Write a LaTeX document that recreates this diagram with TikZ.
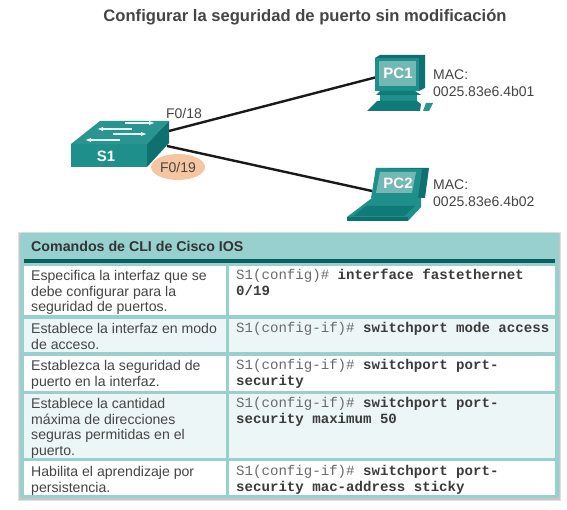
\documentclass[tikz,border=0pt]{standalone}
\usepackage{fontspec}
\setmainfont{Liberation Sans}
\newfontfamily\cmono{Liberation Mono}
\usetikzlibrary{arrows.meta,shapes.geometric,calc}
\definecolor{ink}{HTML}{454545}
\definecolor{soft}{HTML}{6A6A6A}
\definecolor{tealA}{HTML}{1F8F8C}
\definecolor{tealB}{HTML}{0F7A78}
\definecolor{tealC}{HTML}{2A9490}
\definecolor{tealD}{HTML}{0E7170}
\definecolor{screenT}{HTML}{74B8B5}
\definecolor{headT}{HTML}{97D0CE}
\definecolor{barT}{HTML}{0B5F5D}
\definecolor{rowT}{HTML}{EDF6F6}
\definecolor{peach}{HTML}{F6C6A2}
\tikzset{
 lab/.style={font=\fontsize{14.1}{15.7}\selectfont,text=ink,inner sep=0,anchor=north west,align=left},
 maclab/.style={font=\fontsize{14}{16.6}\selectfont,text=ink,inner sep=0,anchor=north west,align=left},
 cmd/.style={font=\cmono\fontsize{14.1}{15.7}\selectfont,text=soft,inner sep=0,anchor=north west,align=left},
 dev/.style={font=\bfseries\fontsize{15}{16}\selectfont,text=white,inner sep=0},
 link/.style={line width=2.4pt,draw=black!90},
 cella/.style={fill=white,draw=none},
 cellb/.style={fill=rowT,draw=none},
}
\newcommand{\kw}[1]{\textcolor{ink!85!black}{\textbf{#1}}}
\begin{document}
\begin{tikzpicture}[x=1pt,y=-1pt]
\useasboundingbox (0,0) rectangle (567,510);
\fill[white] (0,0) rectangle (567,510);
\node[font=\bfseries\fontsize{16.6}{18}\selectfont,text=ink,inner sep=0] (title) at (305,17) {Configurar la seguridad de puerto sin modificación};
% connection points
\coordinate (s1a) at (169,131);
\coordinate (s1b) at (167,146);
\coordinate (pc1a) at (377,77);
\coordinate (pc2a) at (372,191);
\draw[link] (s1a) -- (pc1a);
\draw[link] (s1b) -- (pc2a);
% switch
\fill[tealC] (71,144) -- (100,121) -- (169,121) -- (147,144) -- cycle;
\fill[tealD] (147,144) -- (169,121) -- (169,143) -- (147,167) -- cycle;
\fill[tealA] (71,144) rectangle (147,167);
\foreach \a/\b/\c/\d in {125/123/155/123, 132/129/97/129, 113/134/147/134, 120/140/85/140}
  \draw[white!90!tealA,line width=1.5pt,-{Latex[length=6pt,width=4.5pt]}] (\a,\b) -- (\c,\d);
\node[dev] (s1) at (106,156) {S1};
\node[ellipse,fill=peach,minimum width=54pt,minimum height=26pt,inner sep=0,font=\fontsize{14}{15}\selectfont,text=ink] (f19) at (178,167) {F0/19};
\node[inner sep=0,font=\fontsize{14}{15}\selectfont,text=ink] (f18) at (184,113) {F0/18};
% PC1
\fill[tealD] (375,58) -- (380,55) -- (425,55) -- (425,88) -- (419,91) -- (375,91) -- cycle;
\fill[tealA] (375,58) rectangle (419,91);
\fill[screenT] (379,61) rectangle (416,86);
\fill[tealB] (380,91) -- (415,91) -- (421,95) -- (376,95) -- cycle;
\fill[tealA] (380,95) rectangle (417,101);
\fill[tealB] (377,101) -- (417,101) -- (421,104) -- (420,111) -- (367,111) -- cycle;
\fill[tealC] (426,103) -- (433,103) -- (429,111) -- (423,111) -- cycle;
\node[dev] (pc1) at (398,73) {PC1};
% PC2
\fill[tealD] (376,168) -- (429,168) -- (425,198) -- (372,198) -- cycle;
\fill[tealA] (376,168) -- (422,169) -- (418,198) -- (371,198) -- cycle;
\fill[screenT] (380,172) -- (416,172) -- (412,193) -- (376,193) -- cycle;
\fill[tealA] (372,198) -- (421,198) -- (421,207) -- (408,221) -- (347,221) -- (347,217) -- cycle;
\fill[tealB] (366,206) -- (415,206) -- (404,216) -- (354,216) -- cycle;
\fill[tealD] (347,217) -- (408,217) -- (408,221) -- (347,221) -- cycle;
\node[dev] (pc2) at (398,183) {PC2};
% MAC labels
\node[maclab] (m1) at (433,70) {MAC:\\0025.83e6.4b01};
\node[maclab] (m2) at (433,180) {MAC:\\0025.83e6.4b02};
% table
\fill[black!12] (18,232) rectangle (561,501);
\fill[black!22] (19,233) rectangle (560,500);
\fill[headT,rounded corners=2pt] (20,233) rectangle (559,498);
\fill[barT] (24,259) rectangle (555,263);
\node[inner sep=0,anchor=west,font=\bfseries\fontsize{14.2}{16}\selectfont,text=black!80] (head) at (31,246) {Comandos de CLI de Cisco IOS};
\fill[cella] (24,266) rectangle (226,315);
\fill[cella] (229,266) rectangle (555,315);
\fill[cellb] (24,319) rectangle (226,352);
\fill[cellb] (229,319) rectangle (555,352);
\fill[cella] (24,356) rectangle (226,391);
\fill[cella] (229,356) rectangle (555,391);
\fill[cellb] (24,394) rectangle (226,458);
\fill[cellb] (229,394) rectangle (555,458);
\fill[cella] (24,461) rectangle (226,495);
\fill[cella] (229,461) rectangle (555,495);
\node[lab] (t1) at (31,270) {Especifica la interfaz que se\\debe configurar para la\\seguridad de puertos.};
\node[lab] (t2) at (31,323) {Establece la interfaz en modo\\de acceso.};
\node[lab] (t3) at (31,360) {Establezca la seguridad de\\puerto en la interfaz.};
\node[lab] (t4) at (31,398) {Establece la cantidad\\máxima de direcciones\\seguras permitidas en el\\puerto.};
\node[lab] (t5) at (31,466) {Habilita el aprendizaje por\\persistencia.};
\node[cmd] (c1) at (236,269) {S1(config)\# \kw{interface fastethernet}\\\kw{0/19}};
\node[cmd] (c2) at (236,322) {S1(config-if)\# \kw{switchport mode access}};
\node[cmd] (c3) at (236,359) {S1(config-if)\# \kw{switchport port-}\\\kw{security}};
\node[cmd] (c4) at (236,397) {S1(config-if)\# \kw{switchport port-}\\\kw{security maximum 50}};
\node[cmd] (c5) at (236,465) {S1(config-if)\# \kw{switchport port-}\\\kw{security mac-address sticky}};
\end{tikzpicture}
\end{document}
